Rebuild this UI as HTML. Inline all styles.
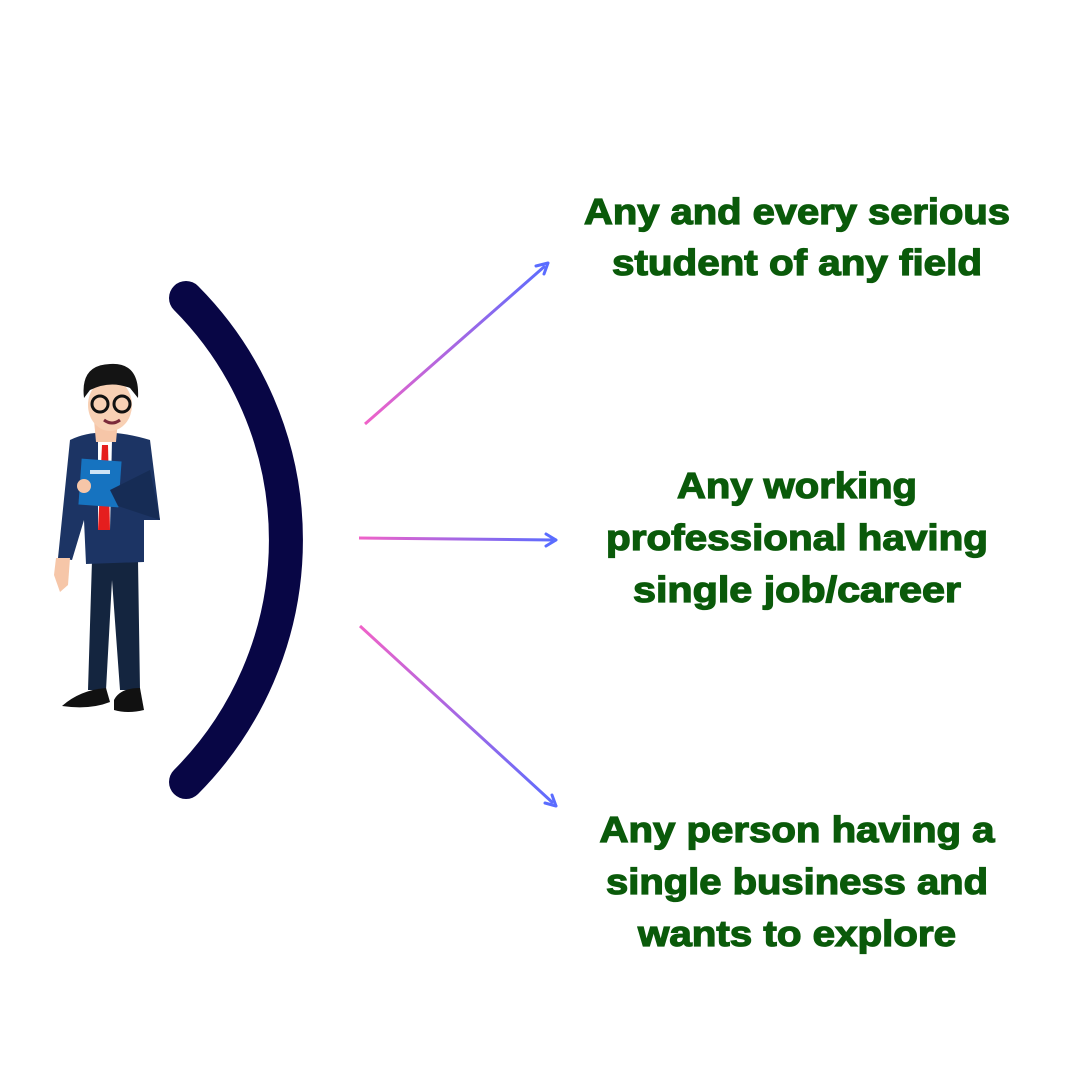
<!DOCTYPE html>
<html><head><meta charset="utf-8"><style>html,body{margin:0;padding:0;background:#fff}svg{display:block}</style></head>
<body>
<svg width="1080" height="1080" viewBox="0 0 1080 1080" xmlns="http://www.w3.org/2000/svg">
<defs>
<linearGradient id="g1" gradientUnits="userSpaceOnUse" x1="365" y1="424" x2="548" y2="263"><stop offset="0" stop-color="#f062c8"/><stop offset="1" stop-color="#5a6cff"/></linearGradient>
<linearGradient id="g2" gradientUnits="userSpaceOnUse" x1="359" y1="538" x2="556" y2="540"><stop offset="0" stop-color="#f062c8"/><stop offset="1" stop-color="#5a6cff"/></linearGradient>
<linearGradient id="g3" gradientUnits="userSpaceOnUse" x1="360" y1="626" x2="556" y2="806"><stop offset="0" stop-color="#f062c8"/><stop offset="1" stop-color="#5a6cff"/></linearGradient>
</defs>
<path d="M186 298 A343 343 0 0 1 186 782" fill="none" stroke="#080645" stroke-width="34" stroke-linecap="round"/>
<line x1="365" y1="424" x2="545" y2="266" stroke="url(#g1)" stroke-width="3"/>
<path d="M548 263 L536 266 M548 263 L544 274" stroke="#5a6cff" stroke-width="3" fill="none" stroke-linecap="round"/>
<line x1="359" y1="538" x2="553" y2="540" stroke="url(#g2)" stroke-width="3"/>
<path d="M556 540 L546 534 M556 540 L546 546" stroke="#5a6cff" stroke-width="3" fill="none" stroke-linecap="round"/>
<line x1="360" y1="626" x2="553" y2="803" stroke="url(#g3)" stroke-width="3"/>
<path d="M556 806 L545 803 M556 806 L552 795" stroke="#5a6cff" stroke-width="3" fill="none" stroke-linecap="round"/>
<g>
<path d="M92 560 L88 690 L106 690 L112 580 L120 690 L140 690 L138 560 Z" fill="#14253f"/>
<path d="M62 706 Q80 690 106 688 L110 702 Q90 710 62 706 Z" fill="#111"/>
<path d="M114 700 Q120 688 140 688 L144 710 Q128 714 114 710 Z" fill="#111"/>
<path d="M70 440 Q100 425 150 440 L160 520 L144 520 L144 562 L86 564 L84 520 L72 560 L58 558 Z" fill="#1c3464"/>
<path d="M56 558 L70 558 L68 585 L60 592 L54 575 Z" fill="#f6c6a8"/>
<path d="M98 440 L112 440 L110 530 L98 530 Z" fill="#fff"/>
<path d="M102 445 L108 445 L110 530 L98 530 Z" fill="#e51e1e"/>
<rect x="80" y="460" width="40" height="46" fill="#1673c0" transform="rotate(4 100 483)"/>
<rect x="90" y="470" width="20" height="4" fill="#cfe3f5"/>
<path d="M110 490 L150 470 L160 520 L118 506 Z" fill="#162c55"/>
<circle cx="84" cy="486" r="7" fill="#f6c6a8"/>
<path d="M94 420 L118 420 L116 442 L96 442 Z" fill="#f6c6a8"/>
<ellipse cx="110" cy="405" rx="22" ry="26" fill="#f8d0b4"/>
<path d="M84 398 Q80 365 110 364 Q140 362 138 398 L130 388 Q110 380 90 390 Z" fill="#141414"/>
<circle cx="100" cy="404" r="8" fill="none" stroke="#111" stroke-width="3"/>
<circle cx="122" cy="404" r="8" fill="none" stroke="#111" stroke-width="3"/>
<path d="M104 420 Q112 426 120 420" stroke="#7a2a3a" stroke-width="3" fill="none"/>
</g>
<g font-family="Liberation Sans, sans-serif" font-weight="bold" font-size="36" fill="#0a5a0a" stroke="#0a5a0a" stroke-width="1.3" text-anchor="middle">
<text x="797" y="224" textLength="426" lengthAdjust="spacingAndGlyphs">Any and every serious</text>
<text x="797" y="275" textLength="370" lengthAdjust="spacingAndGlyphs">student of any field</text>
<text x="797" y="498" textLength="240" lengthAdjust="spacingAndGlyphs">Any working</text>
<text x="797" y="550" textLength="382" lengthAdjust="spacingAndGlyphs">professional having</text>
<text x="797" y="602" textLength="328" lengthAdjust="spacingAndGlyphs">single job/career</text>
<text x="797" y="842" textLength="395" lengthAdjust="spacingAndGlyphs">Any person having a</text>
<text x="797" y="894" textLength="382" lengthAdjust="spacingAndGlyphs">single business and</text>
<text x="797" y="946" textLength="318" lengthAdjust="spacingAndGlyphs">wants to explore</text>
</g>
</svg>
</body></html>
